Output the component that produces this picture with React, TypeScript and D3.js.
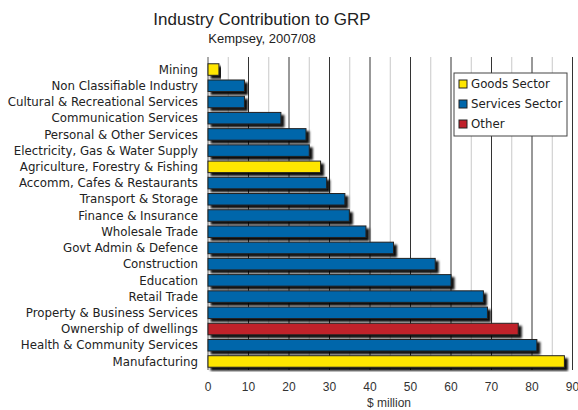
import React from "react";
import * as d3 from "d3";

const categories = [
  "Mining",
  "Non Classifiable Industry",
  "Cultural & Recreational Services",
  "Communication Services",
  "Personal & Other Services",
  "Electricity, Gas & Water Supply",
  "Agriculture, Forestry & Fishing",
  "Accomm, Cafes & Restaurants",
  "Transport & Storage",
  "Finance & Insurance",
  "Wholesale Trade",
  "Govt Admin & Defence",
  "Construction",
  "Education",
  "Retail Trade",
  "Property & Business Services",
  "Ownership of dwellings",
  "Health & Community Services",
  "Manufacturing",
];
const values = [2.7, 9, 9, 18, 24.2, 25, 27.8, 29.3, 33.8, 34.9, 39, 45.8, 56.1, 60, 68, 69, 76.6, 81.2, 88];
const sectors = [
  "Goods", "Services", "Services", "Services", "Services", "Services", "Goods",
  "Services", "Services", "Services", "Services", "Services", "Services", "Services",
  "Services", "Services", "Other", "Services", "Goods",
];
const sectorKeys = ["Goods", "Services", "Other"];
const legendLabels = ["Goods Sector", "Services Sector", "Other"];
const sectorColors = ["#ffe600", "#0066aa", "#c0202a"];
const xTicks = [0, 10, 20, 30, 40, 50, 60, 70, 80, 90];
const minorTicks = [5, 15, 25, 35, 45, 55, 65, 75, 85];

const W = 578;
const H = 410;
const left = 208;
const right = 572.5;
const top = 61.5;
const bottom = 369.5;
const font = "'Liberation Sans', Arial, sans-serif";
const font2 = "'DejaVu Sans', Verdana, sans-serif";

export default function App() {
  const x = d3.scaleLinear().domain([0, 90]).range([left, right]);
  const y = d3.scaleBand<string>().domain(categories).range([top, bottom]).paddingInner(0.29).paddingOuter(0.14);
  const color = d3.scaleOrdinal<string, string>().domain(sectorKeys).range(sectorColors);

  return (
    <svg width={W} height={H} style={{ position: "absolute", left: 0, top: 0, background: "#fff" }}>
      <defs>
        <filter id="shadow" x="-5%" y="-20%" width="115%" height="160%">
          <feDropShadow dx="3" dy="3" stdDeviation="1.2" floodColor="#000" floodOpacity="0.95" />
        </filter>
      </defs>
      <rect width={W} height={H} fill="#fff" />
      <text x={262} y={25} textAnchor="middle" fontFamily={font} fontSize={17} fill="#222">
        Industry Contribution to GRP
      </text>
      <text x={262} y={43} textAnchor="middle" fontFamily={font} fontSize={13} fill="#222">
        Kempsey, 2007/08
      </text>
      {minorTicks.map((t) => (
        <line key={"m" + t} x1={x(t)} x2={x(t)} y1={57} y2={370} stroke="#c8c8c8" strokeWidth={1} />
      ))}
      {xTicks.slice(1).map((t) => (
        <line key={"g" + t} x1={x(t)} x2={x(t)} y1={57} y2={370} stroke="#333" strokeWidth={1} />
      ))}
      <line x1={left} x2={left} y1={57} y2={370} stroke="#555" strokeWidth={1} />
      {categories.map((c, i) => (
        <rect
          key={c}
          x={x(0)}
          y={y(c)}
          width={x(values[i]) - x(0)}
          height={y.bandwidth()}
          fill={color(sectors[i])}
          stroke="#222"
          strokeWidth={1}
          filter="url(#shadow)"
        />
      ))}
      {categories.map((c) => (
        <text
          key={"l" + c}
          x={198}
          y={(y(c) || 0) + y.bandwidth() / 2}
          dy="0.35em"
          textAnchor="end"
          fontFamily={font2}
          fontSize={11.8}
          fill="#222"
        >
          {c}
        </text>
      ))}
      {xTicks.map((t) => (
        <text key={"t" + t} x={x(t)} y={391} textAnchor="middle" fontFamily={font} fontSize={12} fill="#333">
          {t}
        </text>
      ))}
      <text x={389} y={407} textAnchor="middle" fontFamily={font} fontSize={12} fill="#333">
        $ million
      </text>
      <g>
        <rect x={454} y={73} width={113} height={63} fill="#fff" stroke="#444" strokeWidth={1} />
        {legendLabels.map((l, i) => (
          <g key={l} transform={`translate(459, ${84 + i * 20})`}>
            <rect x={0} y={-4} width={8} height={8} fill={sectorColors[i]} stroke="#222" strokeWidth={1} />
            <text x={12} y={0} dy="0.35em" fontFamily={font2} fontSize={11.8} fill="#222">
              {l}
            </text>
          </g>
        ))}
      </g>
    </svg>
  );
}
